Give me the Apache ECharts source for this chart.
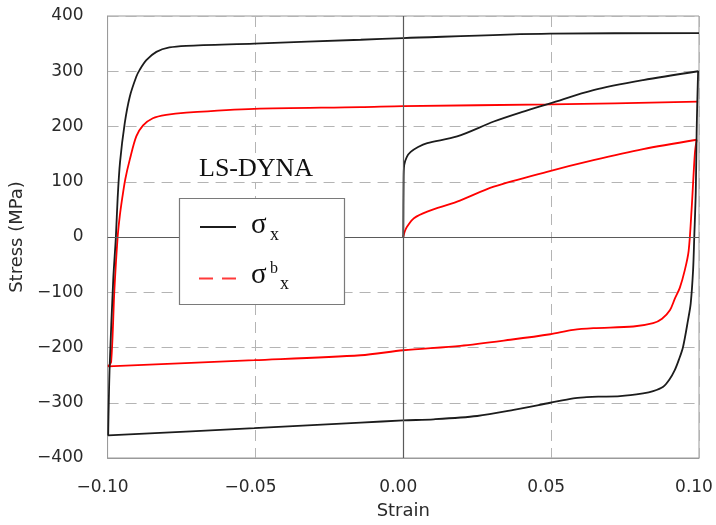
<!DOCTYPE html>
<html>
<head>
<meta charset="utf-8">
<script src="https://cdn.jsdelivr.net/npm/echarts@6/dist/echarts.min.js"></script>
<style>
html,body{margin:0;padding:0;background:#fff;}
#chart{width:716px;height:525px;}
</style>
</head>
<body>
<div id="chart"></div>
<script>
// Tick values
const xTicks = [-0.10, -0.05, 0.00, 0.05, 0.10];
const yTicks = [-400, -300, -200, -100, 0, 100, 200, 300, 400];

// sigma_x (black): initial loading, unloading to -0.1, reloading to +0.1  [strain, stress MPa]
const sxLoad = [[0,0],[0.0001,100],[0.0003,130],[0.0012,145],[0.0025,154],[0.005,163],[0.0081,170],[0.0182,182],[0.0306,209],[0.04,226],[0.0497,242],[0.0643,266],[0.0811,284],[0.0997,300]];
const sxUnload = [[0.0994,240],[0.0992,188],[0.0989,80],[0.0984,0],[0.098,-60],[0.0972,-120],[0.0963,-150],[0.0946,-199],[0.0932,-222],[0.0918,-241],[0.09,-258],[0.0879,-271],[0.0845,-279],[0.0811,-283],[0.0733,-288],[0.0659,-289],[0.062,-290],[0.0575,-292],[0.0497,-300],[0.0373,-313],[0.025,-324],[0.0103,-330],[0,-332],[-0.0144,-336],[-0.0504,-346],[-0.0998,-359]];
const sxReload = [[-0.0997,-326],[-0.0993,-235],[-0.0981,-78],[-0.0972,0],[-0.0966,70],[-0.0958,135],[-0.0942,206],[-0.0925,254],[-0.0903,290],[-0.0892,302],[-0.0869,320],[-0.0835,335],[-0.0791,343],[-0.0734,346],[-0.0504,350],[-0.0144,357],[0,360],[0.0497,368],[0.1,369]];

// sigma^b_x (red)
const sbLoad = [[0,0],[0.0005,10],[0.0013,19],[0.0036,34],[0.0081,46],[0.0182,64],[0.0306,91],[0.0486,118],[0.0643,139],[0.0811,159],[0.0992,176]];
const sbUnload = [[0.0986,151],[0.0975,50],[0.0965,-25],[0.0952,-60],[0.0935,-92],[0.0918,-112],[0.0902,-132],[0.0875,-148],[0.0845,-156],[0.0778,-162],[0.0643,-165],[0.0575,-168],[0.0497,-176],[0.0362,-186],[0.0193,-197],[0,-205],[-0.0144,-214],[-0.0504,-223],[-0.0998,-234]];
const sbReload = [[-0.0988,-226],[-0.0977,-96],[-0.0966,0],[-0.0959,37],[-0.095,72],[-0.094,105],[-0.0925,140],[-0.0903,182],[-0.088,202],[-0.0847,215],[-0.0802,221],[-0.0734,225],[-0.0504,232],[-0.0144,235],[0,237],[0.05,240],[0.0997,245]];

const sxData = sxLoad.concat(sxUnload, sxReload);
const sbData = sbLoad.concat(sbUnload, sbReload);

const chart = echarts.init(document.getElementById('chart'), null, {renderer:'canvas'});
const fmtX = v => (v < -1e-9 ? '\u2212' : '') + Math.abs(v).toFixed(2);
const fmtY = v => (v < 0 ? '\u2212' + Math.abs(v) : String(v));

const option = {
  animation: false,
  backgroundColor: '#fff',
  grid: {left: 106, top: 16, right: 17, bottom: 67, show: true, borderColor: '#9a9a9a', borderWidth: 1},
  xAxis: {
    type: 'value', min: xTicks[0], max: xTicks[xTicks.length-1], interval: 0.05,
    name: 'Strain', nameLocation: 'middle', nameGap: 44,
    nameTextStyle: {fontFamily: 'DejaVu Sans', fontSize: 18, color: '#2a2a2a'},
    axisLine: {onZero: false, lineStyle: {color: '#9a9a9a'}},
    axisTick: {show: false},
    axisLabel: {formatter: fmtX, fontFamily: 'DejaVu Sans', fontSize: 17, color: '#2a2a2a', margin: 21, padding: [0, 10, 0, 0]},
    splitLine: {show: true, lineStyle: {color: '#b4b4b4', type: [11, 7], width: 1}}
  },
  yAxis: {
    type: 'value', min: yTicks[0], max: yTicks[yTicks.length-1], interval: 100,
    name: 'Stress (MPa)', nameLocation: 'middle', nameGap: 77,
    nameTextStyle: {fontFamily: 'DejaVu Sans', fontSize: 18, color: '#2a2a2a'},
    axisLine: {onZero: false, lineStyle: {color: '#9a9a9a'}},
    axisTick: {show: false},
    axisLabel: {formatter: fmtY, fontFamily: 'DejaVu Sans', fontSize: 17, color: '#2a2a2a', margin: 24},
    splitLine: {show: true, lineStyle: {color: '#b4b4b4', type: [11, 7], width: 1}}
  },
  series: [
    {
      name: 'zero', type: 'line', data: [[0,0]], showSymbol: false, silent: true,
      lineStyle: {opacity: 0}, z: 1,
      markLine: {
        silent: true, symbol: 'none', label: {show: false},
        lineStyle: {color: '#5a5a5a', type: 'solid', width: 1.2},
        data: [{xAxis: 0}, {yAxis: 0}]
      }
    },
    {
      name: 'σx', type: 'line', data: sxData, showSymbol: false, smooth: 0.3,
      lineStyle: {color: '#1c1c1c', width: 1.8}, z: 3
    },
    {
      name: 'σbx', type: 'line', data: sbData, showSymbol: false, smooth: 0.3,
      lineStyle: {color: '#ff0000', width: 1.8}, z: 2
    }
  ],
  graphic: [
    {type: 'text', z: 100, style: {x: 199, y: 169, text: 'LS-DYNA', font: '26px "Liberation Serif"', fill: '#111', verticalAlign: 'middle', backgroundColor: '#fff'}},
    {type: 'rect', z: 100, shape: {x: 179.5, y: 198.5, width: 165, height: 106}, style: {fill: '#fff', stroke: '#7a7a7a', lineWidth: 1.2}},
    {type: 'line', z: 101, shape: {x1: 200, y1: 227, x2: 236, y2: 227}, style: {stroke: '#1c1c1c', lineWidth: 2}},
    {type: 'text', z: 101, style: {x: 251, y: 225, text: 'σ', font: '29px "Liberation Serif"', fill: '#111', verticalAlign: 'middle'}},
    {type: 'text', z: 101, style: {x: 270, y: 235, text: 'x', font: '18px "Liberation Serif"', fill: '#111', verticalAlign: 'middle'}},
    {type: 'line', z: 101, shape: {x1: 199, y1: 278.5, x2: 237, y2: 278.5}, style: {stroke: '#ff3a3a', lineWidth: 2, lineDash: [14, 9]}},
    {type: 'text', z: 101, style: {x: 251, y: 275, text: 'σ', font: '29px "Liberation Serif"', fill: '#111', verticalAlign: 'middle'}},
    {type: 'text', z: 101, style: {x: 270, y: 269, text: 'b', font: '16px "Liberation Serif"', fill: '#111', verticalAlign: 'middle'}},
    {type: 'text', z: 101, style: {x: 280, y: 284, text: 'x', font: '18px "Liberation Serif"', fill: '#111', verticalAlign: 'middle'}}
  ]
};
chart.setOption(option);
</script>
</body>
</html>
